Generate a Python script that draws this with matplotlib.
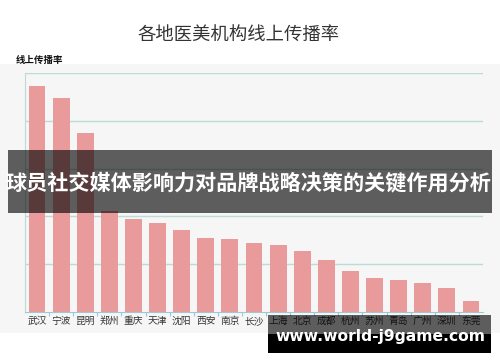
import matplotlib
matplotlib.use("Agg")
import matplotlib.pyplot as plt
from matplotlib.patches import Rectangle

plt.rcParams['font.family'] = ['Noto Sans CJK SC', 'DejaVu Sans']

# ---- data ----
cities = ['武汉', '宁波', '昆明', '郑州', '重庆', '天津', '沈阳', '西安', '南京', '长沙',
          '上海', '北京', '成都', '杭州', '苏州', '青岛', '广州', '深圳', '东莞']
rate = [94.6, 89.4, 74.9, 42.4, 38.9, 37.2, 34.4, 30.8, 30.4, 28.9,
        27.9, 25.5, 21.9, 17.0, 14.4, 13.4, 12.3, 10.2, 4.7]
grid_vals = [20, 40, 60, 80, 100]

title = '各地医美机构线上传播率'
ylabel = '线上传播率'
banner = '球员社交媒体影响力对品牌战略决策的关键作用分析'
mark = 'www.world-j9game.com'

W, H = 500, 362
fig = plt.figure(figsize=(W / 100, H / 100), dpi=100)
fig.patch.set_facecolor('white')

# light grey chart panel (drawn behind everything)
bg = fig.add_axes([0, (H - 333) / H, 1, (333 - 64) / H], zorder=0)
bg.axis('off')
bg.add_patch(Rectangle((0, 0), 1, 1, transform=bg.transAxes, facecolor='#f6f6f6', edgecolor='none'))

ax = fig.add_axes([25 / W, (H - 312) / H, 458 / W, 239 / H], zorder=1)
ax.set_facecolor('none')
ax.bar(range(len(cities)), rate, width=0.7, color='#e99a9a', zorder=3)
ax.set_xlim(-0.5, len(cities) - 0.5)
ax.set_ylim(0, 100)

for g in grid_vals:
    ax.axhline(g, color='#b9dcd6', lw=1, zorder=1)
ax.set_yticks([])
# small ticks between the categories, labels centred under bars
ax.set_xticks([i + 0.5 for i in range(len(cities) - 1)], minor=False)
ax.set_xticklabels([])
ax.tick_params(axis='x', length=3, color='#9cc7d6', width=0.8)
ax.set_xticks(range(len(cities)), minor=True)
ax.set_xticklabels(cities, minor=True, fontsize=7, color='#333333')
ax.tick_params(axis='x', which='minor', length=0, pad=3)
for s in ['top', 'right']:
    ax.spines[s].set_visible(False)
ax.spines['left'].set_color('#b9dcd6')
ax.spines['bottom'].set_color('#9cc7d6')

fig.text(239 / W, 1 - 35 / H, title, ha='center', va='center', fontsize=13.2, color='#333333',
         fontweight='medium')
fig.text(16 / W, 1 - 60 / H, ylabel, ha='left', va='center', fontsize=6.8, fontweight='bold',
         color='#111111')

# overlay banner
fig.patches.append(Rectangle((8 / W, 1 - 213 / H), 484 / W, 63 / H, transform=fig.transFigure,
                             facecolor='black', alpha=0.62, edgecolor='none', zorder=10))
fig.text(249 / W, 1 - 183 / H, banner, ha='center', va='center', fontsize=15.2,
         fontweight='bold', color='white', zorder=11)

# watermark
fig.patches.append(Rectangle((268 / W, 1 - 334 / H), 223 / W, 19 / H, transform=fig.transFigure,
                             facecolor='black', alpha=0.62, edgecolor='none', zorder=10))
fig.patches.append(Rectangle((268 / W, 1 - 353 / H), 223 / W, 19 / H, transform=fig.transFigure,
                             facecolor='black', edgecolor='none', zorder=10))
fig.text(380 / W, 1 - 336 / H, mark, ha='center', va='center', fontsize=11.2,
         fontweight='bold', color='white', family='DejaVu Sans', zorder=11)

fig.savefig('out.png', dpi=100)
